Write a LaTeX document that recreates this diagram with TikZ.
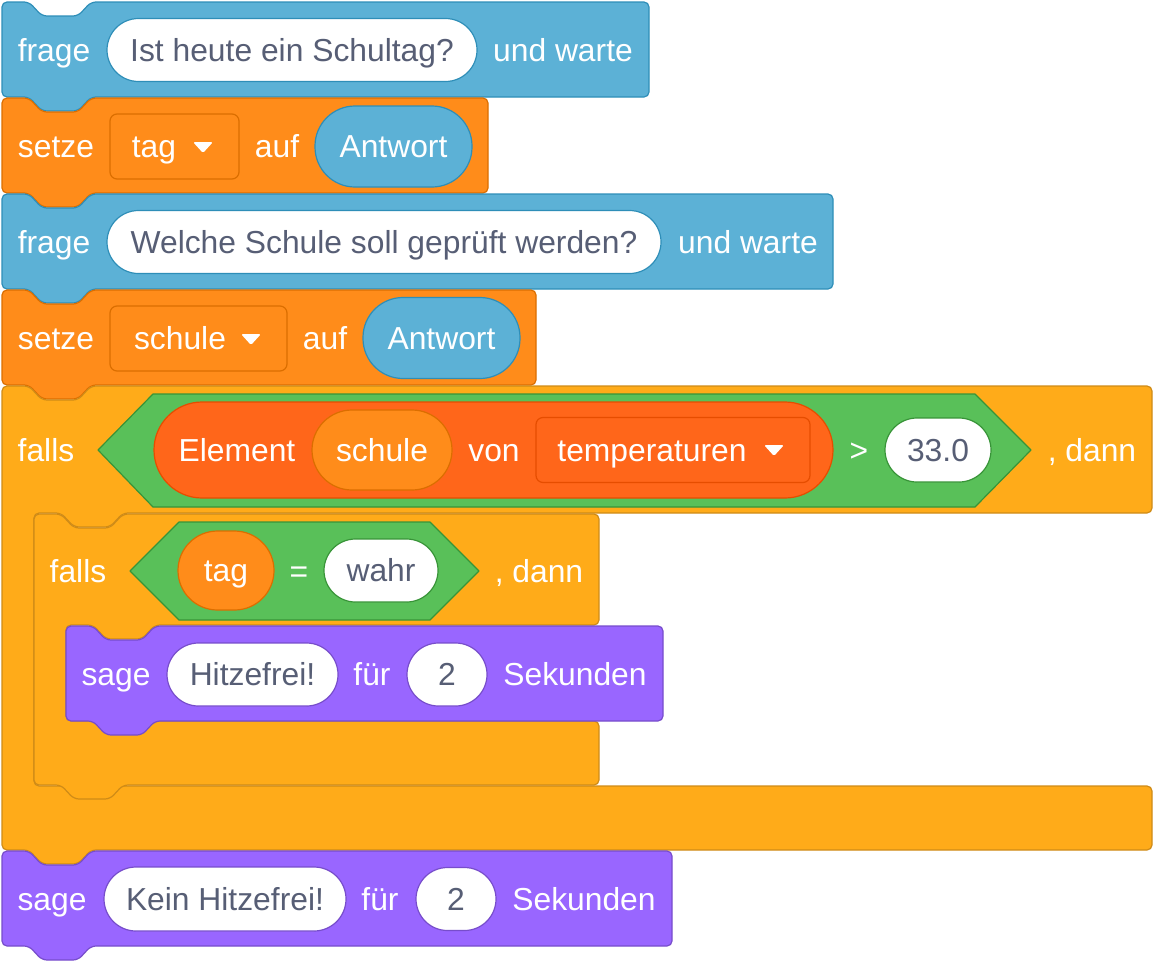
\documentclass[tikz,border=0pt]{standalone}
\usepackage{fontspec}
\setmainfont{Liberation Sans}
\definecolor{sensF}{HTML}{5CB1D6}\definecolor{sensD}{HTML}{2E8EB8}
\definecolor{varF}{HTML}{FF8C1A}\definecolor{varD}{HTML}{DB6E00}
\definecolor{ctlF}{HTML}{FFAB19}\definecolor{ctlD}{HTML}{CF8B17}
\definecolor{opF}{HTML}{59C059}\definecolor{opD}{HTML}{389438}
\definecolor{lstF}{HTML}{FF661A}\definecolor{lstD}{HTML}{E64D00}
\definecolor{lookF}{HTML}{9966FF}\definecolor{lookD}{HTML}{774DCB}
\definecolor{txtG}{HTML}{575E75}
\newcommand\blkfont{\fontsize{31.8}{32}\selectfont}
\tikzset{
  blockline/.style={line width=1.2pt, rounded corners=5pt, line join=round},
  hexline/.style={line width=1.2pt, line join=round, fill=opF, draw=opD},
  lbl/.style={text=white, font=\blkfont, inner sep=0pt, text height=22.8pt, text depth=0pt},
  inp/.style={lbl, text=txtG, fill=white, draw=#1, line width=1.2pt, rectangle, rounded corners=31.5pt, minimum height=63pt},
  rep/.style={lbl, rectangle, line width=1.2pt, rounded corners=40pt, minimum height=80pt},
  ddbox/.style={rectangle, rounded corners=7pt, minimum height=65pt, line width=1.2pt, inner sep=0pt},
  ddarr/.style={fill=white, rounded corners=1.5pt},
}
\newcommand\stackblk[6]{%
  \draw[blockline, fill=#5, draw=#6] (#1,#2+30) -- (#1,#2) -- (#1+27,#2) -- (#1+40,#2+14) -- (#1+76,#2+14) -- (#1+89,#2) -- (#3,#2) -- (#3,#4) -- (#1+89,#4) -- (#1+76,#4+14) -- (#1+40,#4+14) -- (#1+27,#4) -- (#1,#4) -- cycle;}
\newcommand\cblk[9]{%
  \draw[blockline, fill=#8, draw=#9] (#1,#2+30) -- (#1,#2) -- (#1+27,#2) -- (#1+40,#2+14) -- (#1+76,#2+14) -- (#1+89,#2) -- (#3,#2) -- (#3,#5) -- (#6+89,#5) -- (#6+76,#5+14) -- (#6+40,#5+14) -- (#6+27,#5) -- (#6,#5) -- (#6,#7) -- (#3,#7) -- (#3,#4) -- (#1+89,#4) -- (#1+76,#4+14) -- (#1+40,#4+14) -- (#1+27,#4) -- (#1,#4) -- cycle;}
\newcommand\ddarrow[2]{\path[ddarr] (#1-10,#2-5) -- (#1+10,#2-5) -- (#1,#2+6) -- cycle;}
\begin{document}
\begin{tikzpicture}[x=1pt,y=-1pt]
\useasboundingbox (0,0) rectangle (1154,964);
% ---- block 1: frage
\stackblk{2}{2}{649}{97}{sensF}{sensD}
\node[lbl] (f1) at (54,50) {frage};
\node[inp=sensD, minimum width=370pt] (q1) at (292,50) {Ist heute ein Schultag?};
\node[lbl] (w1) at (563,50) {und warte};
% ---- block 2: setze tag
\stackblk{2}{98}{488}{193}{varF}{varD}
\node[lbl] (s1) at (56,146) {setze};
\node[ddbox, fill=varF, draw=varD, minimum width=129pt] (dd1) at (174.5,146.5) {};
\node[lbl] (tag1) at (154,146) {tag};
\ddarrow{203}{147}
\node[lbl] (a1) at (277,146) {auf};
\node[rep, fill=sensF, draw=sensD, minimum width=157pt, minimum height=81pt] (ant1) at (393.5,146.5) {Antwort};
% ---- block 3: frage
\stackblk{2}{194}{833}{289}{sensF}{sensD}
\node[lbl] (f2) at (54,242) {frage};
\node[inp=sensD, minimum width=554pt] (q2) at (384,242) {Welche Schule soll geprüft werden?};
\node[lbl] (w2) at (748,242) {und warte};
% ---- block 4: setze schule
\stackblk{2}{290}{536}{385}{varF}{varD}
\node[lbl] (s2) at (56,338) {setze};
\node[ddbox, fill=varF, draw=varD, minimum width=177pt] (dd2) at (198.5,338.5) {};
\node[lbl] (sch1) at (180,338) {schule};
\ddarrow{251}{339}
\node[lbl] (a2) at (325,338) {auf};
\node[rep, fill=sensF, draw=sensD, minimum width=157pt, minimum height=81pt] (ant2) at (441.5,338) {Antwort};
% ---- outer falls
\cblk{2}{386}{1152}{850}{513}{34}{786}{ctlF}{ctlD}
\node[lbl] (if1) at (46,450) {falls};
\draw[hexline] (98,450) -- (153,394) -- (975,394) -- (1031,450) -- (975,507) -- (153,507) -- cycle;
\node[rep, fill=lstF, draw=lstD, minimum width=679pt, minimum height=96pt, rounded corners=48pt] (item) at (493.5,450) {};
\node[lbl] (el) at (237,450) {Element};
\node[rep, fill=varF, draw=varD, minimum width=140pt] (sch2) at (382,450) {schule};
\node[lbl] (von) at (494,450) {von};
\node[ddbox, fill=lstF, draw=lstD, minimum width=274pt] (dd3) at (673,450) {};
\node[lbl] (temp) at (652,450) {temperaturen};
\ddarrow{774}{450}
\node[lbl] (gt) at (859,450) {>};
\node[inp=opD, minimum width=106pt, minimum height=64pt, rounded corners=32pt] (num) at (938,450) {33.0};
\node[lbl] (dann1) at (1092,450) {, dann};
% ---- inner falls
\cblk{34}{514}{599}{785}{625}{66}{721}{ctlF}{ctlD}
\node[lbl] (if2) at (78,571) {falls};
\draw[hexline] (130,571) -- (179,522) -- (430,522) -- (479,571) -- (430,620) -- (179,620) -- cycle;
\node[rep, fill=varF, draw=varD, minimum width=96pt, minimum height=79pt, rounded corners=39.5pt] (tag2) at (226,570.5) {tag};
\node[lbl] (eq) at (299,571) {=};
\node[inp=opD, minimum width=114pt] (wahr) at (381,570.5) {wahr};
\node[lbl] (dann2) at (539,571) {, dann};
% ---- inner sage
\stackblk{66}{626}{663}{721}{lookF}{lookD}
\node[lbl] (sg1) at (116,674.5) {sage};
\node[inp=lookD, minimum width=171pt] (hf1) at (252.5,674.5) {Hitzefrei!};
\node[lbl] (fu1) at (372,674.5) {für};
\node[inp=lookD, minimum width=80pt] (two1) at (447,674.5) {2};
\node[lbl] (sek1) at (575,674.5) {Sekunden};
% ---- last sage
\stackblk{2}{851}{672}{946}{lookF}{lookD}
\node[lbl] (sg2) at (52,899) {sage};
\node[inp=lookD, minimum width=242pt, minimum height=64pt, rounded corners=32pt] (hf2) at (225,899) {Kein Hitzefrei!};
\node[lbl] (fu2) at (380,899) {für};
\node[inp=lookD, minimum width=80pt] (two2) at (456,899) {2};
\node[lbl] (sek2) at (584,899) {Sekunden};
\end{tikzpicture}
\end{document}
